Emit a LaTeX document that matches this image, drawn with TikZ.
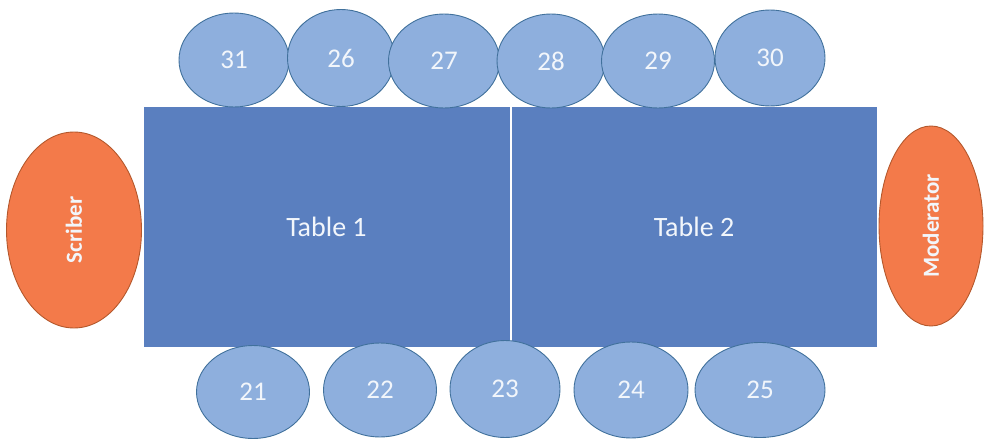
\documentclass[tikz,border=0pt]{standalone}
\usepackage{fontspec}
\setmainfont{Carlito}
\usepackage{xcolor}
\usetikzlibrary{shapes.geometric}
\definecolor{tablefill}{HTML}{5A7FBF}
\definecolor{seatfill}{HTML}{8EAFDD}
\definecolor{seatline}{HTML}{41719C}
\definecolor{rolefill}{HTML}{F37A4A}
\definecolor{roleline}{HTML}{B4582C}
\definecolor{labeltext}{HTML}{F2F6FB}

\begin{document}
\begin{tikzpicture}[
  x=1pt,y=1pt,
  desk/.style={rectangle,draw=white,line width=0.8pt,fill=tablefill,inner sep=0pt,
               text=labeltext,font=\fontsize{28}{30}\selectfont},
  seat/.style={ellipse,draw=seatline,fill=seatfill,line width=0.9pt,inner sep=0pt,
               text=labeltext,font=\fontsize{27}{29}\selectfont},
  role/.style={ellipse,draw=roleline,fill=rolefill,line width=0.9pt,inner sep=0pt,
               text=labeltext,font=\fontsize{23}{25}\selectfont\bfseries}
]
\useasboundingbox (0,0) rectangle (995,440);

% Tables
\node[desk,minimum width=367,minimum height=241] (t1) at (326.5,213) {Table 1};
\node[desk,minimum width=366,minimum height=241] (t2) at (694,213) {Table 2};

% Top row of seats
\node[seat,minimum width=110,minimum height=94] (s31) at (234,380) {31};
\node[seat,minimum width=107,minimum height=97] (s26) at (341,382) {26};
\node[seat,minimum width=111,minimum height=94] (s27) at (444,379) {27};
\node[seat,minimum width=108,minimum height=94] (s28) at (551,379) {28};
\node[seat,minimum width=113,minimum height=94] (s29) at (658,379) {29};
\node[seat,minimum width=110,minimum height=96] (s30) at (770,382) {30};

% Bottom row of seats
\node[seat,minimum width=113,minimum height=93] (s21) at (253,48) {21};
\node[seat,minimum width=113,minimum height=94] (s22) at (380,50) {22};
\node[seat,minimum width=110,minimum height=97] (s23) at (505,51) {23};
\node[seat,minimum width=114,minimum height=96] (s24) at (631,50) {24};
\node[seat,minimum width=130,minimum height=95] (s25) at (760,50) {25};

% Scriber and moderator
\node[role,minimum width=135,minimum height=196] (scriber) at (74,210)
  {\rotatebox{90}{Scriber}};
\node[role,minimum width=104,minimum height=200] (moderator) at (931,214)
  {\rotatebox{90}{Moderator}};

\end{tikzpicture}
\end{document}
